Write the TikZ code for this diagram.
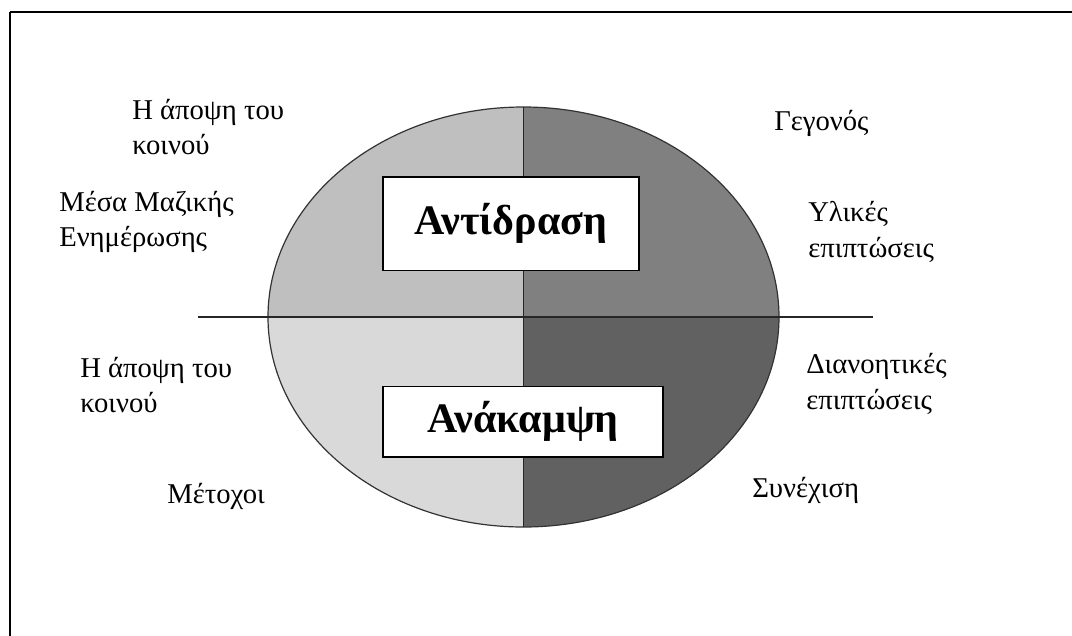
\documentclass[tikz,border=0pt]{standalone}
\usepackage{fontspec}
\setmainfont{Liberation Serif}
\begin{document}
\begin{tikzpicture}[x=0.75pt, y=-0.75pt,
  label/.style={anchor=west, align=left, font=\fontsize{21.5}{26.5}\selectfont, inner sep=0pt},
  titlebox/.style={draw=black, line width=1pt, fill=white, font=\fontsize{31.5}{34}\selectfont\bfseries, inner sep=0pt},
  rule/.style={line width=1pt, draw=black!85}]
\useasboundingbox (0,0) rectangle (1072,636);
% frame (top and left edges)
\draw[line width=1.3pt] (10,12) -- (1072,12);
\draw[line width=1.3pt] (10,12) -- (10,636);
% four shaded quarters of the ellipse
\coordinate (c) at (523.5,317);
\begin{scope}
  \clip (c) ellipse [x radius=255.5, y radius=210];
  \fill[black!25] (260,100) rectangle (c);
  \fill[black!50] (790,100) rectangle (c);
  \fill[black!15] (260,540) rectangle (c);
  \fill[black!62] (790,540) rectangle (c);
\end{scope}
\draw[line width=0.9pt, draw=black!80] (c) ellipse [x radius=255.5, y radius=210];
\coordinate (vt) at (523.5,107);
\coordinate (vb) at (523.5,527);
\coordinate (hl) at (198,317);
\coordinate (hr) at (873,317);
\draw[rule] (vt) -- (vb);
\draw[rule] (hl) -- (hr);
% titles (sizes in pt: 1px = 0.75pt)
\node[titlebox, minimum width=192pt, minimum height=70pt] (react) at (511,223.5) {Αντίδραση};
\node[titlebox, minimum width=210pt, minimum height=53pt] (recov) at (523,421.5) {Ανάκαμψη};
% labels
\node[label] (l1) at (132,127) {Η άποψη του\\κοινού};
\node[label] (l2) at (59,222) {Μέσα Μαζικής\\Ενημέρωσης};
\node[label] (l3) at (80,385) {Η άποψη του\\κοινού};
\node[label] (l4) at (167,496) {Μέτοχοι};
\node[label] (r1) at (774,123) {Γεγονός};
\node[label] (r2) at (808,232) {Υλικές\\επιπτώσεις};
\node[label] (r3) at (806,384) {Διανοητικές\\επιπτώσεις};
\node[label] (r4) at (752,490) {Συνέχιση};
\end{tikzpicture}
\end{document}
